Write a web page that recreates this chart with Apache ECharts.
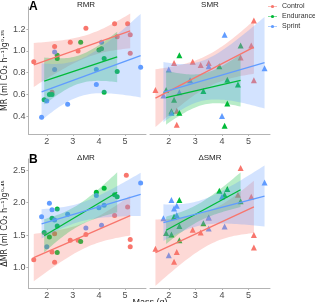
<!DOCTYPE html>
<html>
<head>
<meta charset="utf-8">
<title>MR vs mass</title>
<style>
    html, body { margin: 0; padding: 0; background: #fff; }
    #chart { width: 315px; height: 302px; }
</style>
</head>
<body>
<div id="chart"></div>
<script src="https://cdn.jsdelivr.net/npm/echarts@6/dist/echarts.min.js"></script>
<script>
// groups and colours (ggplot default hues)
var groups = ['Control', 'Endurance', 'Sprint'];
var colors = ['#F8766D', '#00BA38', '#619CFF'];

// x tick values (mass, g)
var xTicks = [2, 3, 4, 5];
var yTicksTop = [0.4, 0.6, 0.8, 1.0, 1.2];
var yTicksBottom = [1.0, 1.5, 2.0, 2.5];

// RMR (circles)
var rmrControl = [[1.5,0.90],[2.2,0.62],[2.3,1.04],[2.9,1.08],[3.2,1.00],[3.5,1.21],[4.6,1.25],[4.7,1.13],[5.1,1.25],[5.2,1.15],[5.2,0.98]];
var rmrEndurance = [[1.9,0.55],[2.1,0.60],[2.2,0.60],[2.4,0.96],[2.4,0.93],[3.3,1.08],[4.0,1.01],[4.1,1.02],[4.2,0.93],[4.2,0.62],[4.7,0.81]];
var rmrSprint = [[1.8,0.39],[2.0,0.54],[2.3,0.99],[2.3,0.83],[2.8,0.51],[3.9,0.83],[3.9,0.69],[4.1,1.08],[5.6,0.85]];

// SMR (triangles)
var smrControl = [[1.5,0.64],[2.2,0.89],[2.3,0.45],[2.3,0.32],[2.9,0.90],[3.2,0.87],[3.5,0.89],[4.7,0.94],[5.1,1.05],[5.2,1.28],[5.2,0.73]];
var smrEndurance = [[1.9,0.64],[2.1,0.445],[2.2,0.55],[2.4,0.96],[2.4,0.43],[3.3,0.63],[3.9,0.86],[4.1,0.31],[4.2,0.735],[4.2,0.515],[4.6,0.69],[4.7,1.05]];
var smrSprint = [[1.8,0.59],[2.0,0.83],[2.1,0.43],[2.4,0.62],[2.8,0.73],[3.5,0.86],[4.0,0.40],[4.1,1.15],[5.6,0.84]];

// dMR (circles)
var dmrControl = [[1.5,1.12],[2.2,1.24],[2.3,1.08],[2.3,1.52],[2.9,1.42],[3.2,1.42],[3.5,1.51],[4.6,1.80],[5.05,2.42],[5.1,1.93],[5.2,1.43],[5.2,1.32]];
var dmrEndurance = [[1.9,1.54],[2.1,1.47],[2.2,1.76],[2.4,1.90],[2.4,1.64],[2.4,1.23],[3.3,1.40],[3.9,2.16],[4.2,2.22],[4.6,2.12],[4.7,2.09]];
var dmrSprint = [[1.8,1.78],[2.0,1.32],[2.1,1.99],[2.2,1.89],[2.3,1.73],[2.8,1.82],[3.5,1.61],[3.9,2.11],[4.0,1.92],[4.1,1.65],[4.2,1.96],[5.6,2.30]];

// dSMR (triangles)
var dsmrControl = [[1.5,1.29],[2.2,1.09],[2.3,1.24],[2.9,1.58],[3.2,1.54],[3.5,1.77],[4.6,2.12],[4.7,2.53],[5.1,2.09],[5.2,1.50],[5.2,1.31]];
var dsmrEndurance = [[1.9,1.53],[2.1,1.51],[2.2,1.78],[2.4,2.04],[2.4,1.42],[2.4,1.64],[3.3,1.68],[3.9,2.18],[4.1,2.12],[4.2,2.21],[4.7,2.02]];
var dsmrSprint = [[1.8,1.76],[2.0,1.19],[2.1,2.04],[2.2,1.91],[2.3,1.95],[2.3,1.81],[3.5,1.60],[3.5,1.77],[4.0,2.09],[4.1,1.63],[5.6,2.31]];

var panels = [
    {title: 'RMR', sets: [rmrControl, rmrEndurance, rmrSprint], symbol: 'circle'},
    {title: 'SMR', sets: [smrControl, smrEndurance, smrSprint], symbol: 'triangle'},
    {title: '\u0394MR', sets: [dmrControl, dmrEndurance, dmrSprint], symbol: 'circle'},
    {title: '\u0394SMR', sets: [dsmrControl, dsmrEndurance, dsmrSprint], symbol: 'triangle'}
];

var T975 = [12.706, 4.303, 3.182, 2.776, 2.571, 2.447, 2.365, 2.306, 2.262, 2.228, 2.201, 2.179, 2.160, 2.145, 2.131];
var FONT = 'Liberation Sans';

// linear fit with 95% confidence band (like geom_smooth(method = lm))
function lmFit(pts) {
    var n = pts.length, mx = 0, my = 0, sxx = 0, sxy = 0, sse = 0;
    var xmin = Infinity, xmax = -Infinity;
    pts.forEach(function (p) { mx += p[0]; my += p[1]; xmin = Math.min(xmin, p[0]); xmax = Math.max(xmax, p[0]); });
    mx /= n; my /= n;
    pts.forEach(function (p) { sxx += (p[0] - mx) * (p[0] - mx); sxy += (p[0] - mx) * (p[1] - my); });
    var b = sxy / sxx, a = my - b * mx;
    pts.forEach(function (p) { var r = p[1] - a - b * p[0]; sse += r * r; });
    var s = Math.sqrt(sse / (n - 2));
    var t = T975[Math.min(n - 3, T975.length - 1)];
    var upper = [], lower = [];
    for (var i = 0; i <= 40; i++) {
        var x = xmin + (xmax - xmin) * i / 40;
        var yh = a + b * x;
        var se = s * Math.sqrt(1 / n + (x - mx) * (x - mx) / sxx);
        upper.push([x, yh + t * se]);
        lower.push([x, yh - t * se]);
    }
    return {line: [[xmin, a + b * xmin], [xmax, a + b * xmax]], upper: upper, lower: lower, mx: mx, my: my};
}

var grids = [
    {left: 26, top: 7, width: 120, height: 127},
    {left: 150, top: 7, width: 120, height: 127},
    {left: 26, top: 159, width: 120, height: 129},
    {left: 150, top: 159, width: 120, height: 129}
];

var axisColor = '#b3b3b3';
var labelColor = '#4d4d4d';

var xAxes = grids.map(function (g, i) {
    return {
        type: 'value', gridIndex: i, min: 1.295, max: 5.805,
        splitLine: {show: false},
        axisLine: {show: true, onZero: false, lineStyle: {color: axisColor, width: 1}},
        axisTick: {show: true, length: 2, customValues: xTicks, lineStyle: {color: axisColor}},
        axisLabel: {customValues: xTicks, fontSize: 9, color: labelColor, fontFamily: FONT, margin: 3}
    };
});

var yAxes = grids.map(function (g, i) {
    var top = i < 2;
    var ticks = top ? yTicksTop : yTicksBottom;
    var ax = {
        type: 'value', gridIndex: i,
        min: top ? 0.235 : 0.685, max: top ? 1.405 : 2.67,
        splitLine: {show: false},
        show: i % 2 === 0,
        axisLine: {show: true, lineStyle: {color: axisColor, width: 1}},
        axisTick: {show: true, length: 2, customValues: ticks, lineStyle: {color: axisColor}},
        axisLabel: {
            customValues: ticks, fontSize: 9, color: labelColor, fontFamily: FONT, margin: 3,
            formatter: function (v) { return v.toFixed(1); }
        }
    };
    if (i === 0) ax.name = 'MR (ml CO\u2082 h\u207B\u00B9)g\u2070\u00B7\u00B3\u2075';
    if (i === 2) ax.name = '\u0394MR (ml CO\u2082 h\u207B\u00B9)g\u2070\u00B7\u2074\u2075';
    ax.nameLocation = 'middle';
    ax.nameGap = 17;
    ax.nameTextStyle = {fontSize: 8, color: '#222', fontFamily: 'DejaVu Sans'};
    return ax;
});

var series = [];
panels.forEach(function (panel, p) {
    panel.sets.forEach(function (pts, g) {
        var f = lmFit(pts);
        series.push({
            type: 'scatter', name: groups[g], xAxisIndex: p, yAxisIndex: p,
            data: pts, symbol: panel.symbol, symbolSize: panel.symbol === 'circle' ? 5 : 6,
            itemStyle: {color: colors[g], opacity: 1}, z: 2, silent: true
        });
        series.push({
            type: 'custom', xAxisIndex: p, yAxisIndex: p, z: 3, silent: true,
            data: [[f.mx, f.my]],
            renderItem: function (params, api) {
                var pts2 = f.upper.map(function (q) { return api.coord(q); })
                    .concat(f.lower.slice().reverse().map(function (q) { return api.coord(q); }));
                return {type: 'polygon', shape: {points: pts2}, style: {fill: colors[g], opacity: 0.28}};
            }
        });
        series.push({
            type: 'line', xAxisIndex: p, yAxisIndex: p, data: f.line, z: 4, silent: true,
            showSymbol: false, lineStyle: {color: colors[g], width: 1.3}
        });
    });
});

var titlePos = [[86, 5], [210, 5], [86, 158], [210, 158]];
var graphics = panels.map(function (panel, i) {
    return {
        type: 'text', x: titlePos[i][0], y: titlePos[i][1],
        style: {text: panel.title, fontSize: 8, fill: '#222', fontFamily: FONT, align: 'center', verticalAlign: 'middle'}
    };
});
graphics.push({type: 'text', x: 29, y: 7, style: {text: 'A', fontSize: 12, fontWeight: 'bold', fill: '#000', fontFamily: FONT, verticalAlign: 'middle'}});
graphics.push({type: 'text', x: 29, y: 160, style: {text: 'B', fontSize: 12, fontWeight: 'bold', fill: '#000', fontFamily: FONT, verticalAlign: 'middle'}});
graphics.push({type: 'text', x: 150, y: 298, style: {text: 'Mass (g)', fontSize: 9, fill: '#222', fontFamily: FONT, align: 'center', verticalAlign: 'top'}});

var chart = echarts.init(document.getElementById('chart'), null, {renderer: 'canvas'});
chart.setOption({
    animation: false,
    backgroundColor: '#fff',
    grid: grids,
    xAxis: xAxes,
    yAxis: yAxes,
    legend: {
        data: groups, orient: 'vertical', left: 268, top: 3, padding: 0,
        itemWidth: 9, itemHeight: 5, itemGap: 3,
        icon: 'path://M0,4.5H14V5.5H0Z M9.5,5A2.5,2.5,0,1,1,4.5,5A2.5,2.5,0,1,1,9.5,5Z',
        textStyle: {fontSize: 7, color: '#333', fontFamily: FONT},
        selectedMode: false
    },
    graphic: graphics,
    series: series
});
</script>
</body>
</html>
